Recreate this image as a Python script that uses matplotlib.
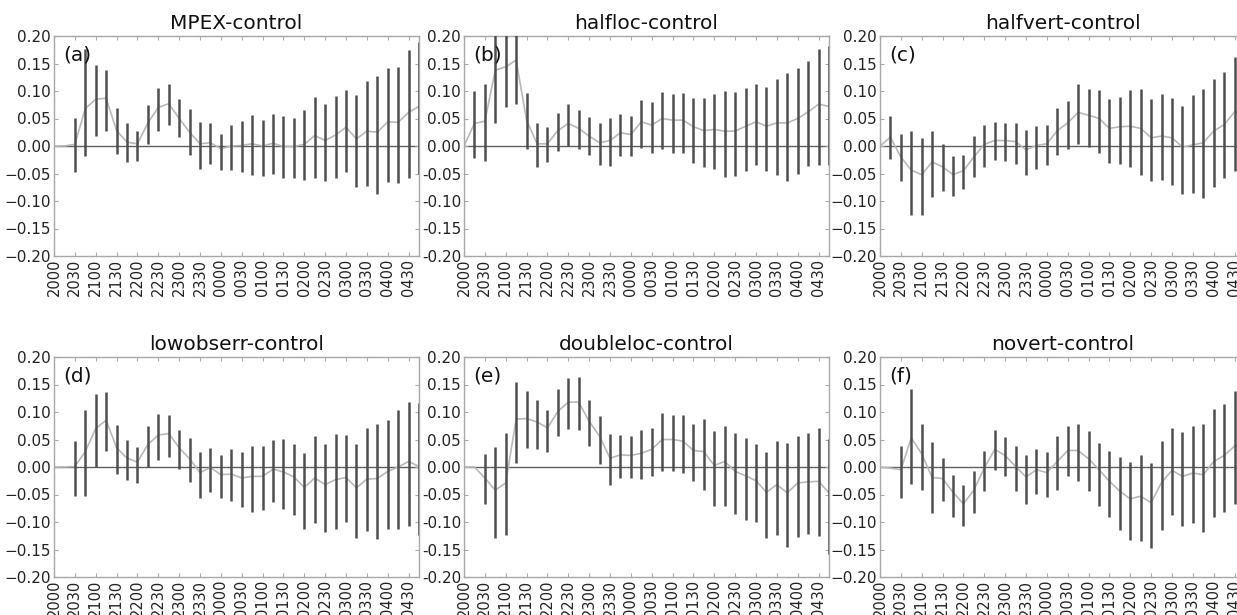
import numpy as np
import matplotlib
matplotlib.use("Agg")
import matplotlib.pyplot as plt
from matplotlib.ticker import FixedLocator, FixedFormatter

# 15-min steps from 2000 to 0445, labels every 30 min
TIME_LABELS = ["2000", "2030", "2100", "2130", "2200", "2230", "2300", "2330",
               "0000", "0030", "0100", "0130", "0200", "0230", "0300", "0330",
               "0400", "0430"]
N_STEPS = 36

TITLES = ["MPEX-control", "halfloc-control", "halfvert-control",
          "lowobserr-control", "doubleloc-control", "novert-control"]
PANEL_TAGS = ["(a)", "(b)", "(c)", "(d)", "(e)", "(f)"]

nan = np.nan

# panel (a) MPEX-control
mpex_mean = [0.0, 0.0, 0.003, 0.068, 0.085, 0.087, 0.028, 0.007, 0.004, 0.042,
             0.070, 0.077, 0.050, 0.025, 0.004, 0.006, -0.005, 0.000, 0.001, 0.004,
             0.000, 0.005, -0.001, -0.001, 0.003, 0.019, 0.010, 0.020, 0.034, 0.013,
             0.027, 0.025, 0.044, 0.043, 0.061, 0.072]
mpex_hi = [nan, nan, 0.051, 0.177, 0.147, 0.139, 0.069, 0.041, 0.028, 0.074,
           0.106, 0.113, 0.085, 0.067, 0.044, 0.041, 0.022, 0.039, 0.045, 0.057,
           0.048, 0.058, 0.054, 0.051, 0.065, 0.090, 0.076, 0.091, 0.102, 0.093,
           0.119, 0.127, 0.142, 0.144, 0.174, 0.190]
mpex_lo = [nan, nan, -0.047, -0.018, 0.018, 0.027, -0.015, -0.029, -0.027, 0.003,
           0.028, 0.038, 0.016, -0.017, -0.041, -0.032, -0.043, -0.044, -0.047, -0.052,
           -0.055, -0.050, -0.058, -0.059, -0.061, -0.058, -0.063, -0.058, -0.047, -0.075,
           -0.073, -0.088, -0.065, -0.068, -0.059, -0.050]

# panel (b) halfloc-control
halfloc_mean = [0.0, 0.041, 0.045, 0.138, 0.144, 0.156, 0.047, 0.004, 0.004, 0.028,
                0.041, 0.032, 0.018, 0.006, 0.010, 0.024, 0.021, 0.044, 0.038, 0.050,
                0.047, 0.047, 0.035, 0.028, 0.030, 0.027, 0.027, 0.036, 0.044, 0.036,
                0.042, 0.042, 0.050, 0.062, 0.076, 0.072]
halfloc_hi = [nan, 0.100, 0.113, 0.220, 0.230, 0.240, 0.097, 0.041, 0.035, 0.060,
              0.077, 0.066, 0.052, 0.042, 0.051, 0.059, 0.054, 0.084, 0.080, 0.098,
              0.095, 0.097, 0.087, 0.088, 0.094, 0.100, 0.098, 0.106, 0.112, 0.108,
              0.122, 0.133, 0.142, 0.155, 0.177, 0.182]
halfloc_lo = [nan, -0.021, -0.027, 0.042, 0.071, 0.077, -0.005, -0.038, -0.029, -0.009,
              0.000, -0.005, -0.017, -0.035, -0.036, -0.018, -0.018, -0.003, -0.013, -0.006,
              -0.013, -0.012, -0.030, -0.038, -0.041, -0.056, -0.055, -0.045, -0.035, -0.045,
              -0.052, -0.064, -0.050, -0.036, -0.035, -0.035]

# panel (c) halfvert-control
halfvert_mean = [0.0, 0.016, -0.020, -0.044, -0.052, -0.029, -0.038, -0.052, -0.045, -0.020,
                 0.003, 0.010, 0.010, 0.008, -0.007, 0.001, 0.004, 0.028, 0.042, 0.061,
                 0.056, 0.050, 0.032, 0.035, 0.036, 0.032, 0.015, 0.018, 0.015, -0.002,
                 0.002, 0.006, 0.027, 0.039, 0.062, 0.070]
halfvert_hi = [nan, 0.054, 0.021, 0.028, 0.015, 0.028, 0.003, -0.018, -0.017, 0.018,
               0.039, 0.044, 0.042, 0.042, 0.030, 0.037, 0.038, 0.069, 0.082, 0.112,
               0.104, 0.102, 0.085, 0.090, 0.101, 0.104, 0.085, 0.095, 0.088, 0.073,
               0.093, 0.104, 0.121, 0.135, 0.162, 0.180]
halfvert_lo = [nan, -0.024, -0.064, -0.126, -0.126, -0.093, -0.082, -0.090, -0.078, -0.056,
               -0.038, -0.026, -0.028, -0.033, -0.052, -0.042, -0.035, -0.017, -0.006, 0.004,
               -0.002, -0.013, -0.031, -0.032, -0.038, -0.052, -0.064, -0.062, -0.070, -0.087,
               -0.086, -0.094, -0.075, -0.059, -0.045, -0.040]

# panel (d) lowobserr-control
lowobs_mean = [0.0, 0.0, 0.001, 0.028, 0.070, 0.085, 0.035, 0.016, 0.009, 0.041,
               0.058, 0.061, 0.035, 0.015, -0.010, -0.001, -0.014, -0.013, -0.020, -0.017,
               -0.017, -0.004, -0.009, -0.018, -0.037, -0.020, -0.032, -0.023, -0.019, -0.038,
               -0.022, -0.021, -0.008, 0.000, 0.010, 0.001]
lowobs_hi = [nan, nan, 0.048, 0.104, 0.133, 0.136, 0.077, 0.050, 0.036, 0.075,
             0.096, 0.095, 0.068, 0.053, 0.028, 0.035, 0.022, 0.032, 0.027, 0.038,
             0.039, 0.050, 0.051, 0.042, 0.025, 0.056, 0.041, 0.060, 0.059, 0.042,
             0.071, 0.078, 0.086, 0.103, 0.118, 0.116]
lowobs_lo = [nan, nan, -0.052, -0.052, 0.000, 0.030, -0.013, -0.024, -0.029, 0.000,
             0.013, 0.018, -0.003, -0.028, -0.056, -0.046, -0.056, -0.062, -0.072, -0.081,
             -0.079, -0.064, -0.076, -0.088, -0.113, -0.101, -0.119, -0.113, -0.100, -0.129,
             -0.117, -0.131, -0.113, -0.113, -0.107, -0.123]

# panel (e) doubleloc-control
dblloc_mean = [0.0, 0.0, -0.020, -0.042, -0.029, 0.087, 0.088, 0.082, 0.071, 0.101,
               0.118, 0.118, 0.083, 0.056, 0.016, 0.022, 0.021, 0.025, 0.032, 0.050,
               0.050, 0.047, 0.030, 0.028, 0.003, 0.010, -0.008, -0.016, -0.025, -0.046,
               -0.032, -0.047, -0.029, -0.027, -0.026, -0.047]
dblloc_hi = [nan, nan, 0.024, 0.036, 0.062, 0.154, 0.138, 0.122, 0.104, 0.142,
             0.162, 0.163, 0.121, 0.093, 0.060, 0.059, 0.056, 0.067, 0.071, 0.098,
             0.095, 0.094, 0.079, 0.087, 0.065, 0.075, 0.062, 0.053, 0.042, 0.027,
             0.048, 0.044, 0.057, 0.062, 0.071, 0.051]
dblloc_lo = [nan, nan, -0.067, -0.129, -0.124, 0.008, 0.035, 0.033, 0.027, 0.056,
             0.069, 0.068, 0.039, 0.005, -0.033, -0.020, -0.020, -0.022, -0.017, -0.008,
             -0.007, -0.010, -0.026, -0.041, -0.070, -0.070, -0.085, -0.096, -0.100, -0.129,
             -0.123, -0.145, -0.127, -0.122, -0.126, -0.159]

# panel (f) novert-control
novert_mean = [0.0, -0.002, -0.005, 0.053, 0.024, -0.019, -0.021, -0.046, -0.067, -0.042,
               -0.002, 0.032, 0.021, 0.001, -0.018, -0.005, -0.010, 0.010, 0.030, 0.030,
               0.015, -0.005, -0.026, -0.044, -0.058, -0.053, -0.065, -0.028, -0.006, -0.017,
               -0.011, -0.014, 0.010, 0.021, 0.038, 0.045]
novert_hi = [nan, nan, 0.039, 0.141, 0.079, 0.045, 0.016, -0.014, -0.033, -0.008,
             0.030, 0.068, 0.054, 0.039, 0.021, 0.033, 0.027, 0.057, 0.074, 0.078,
             0.065, 0.044, 0.030, 0.019, 0.009, 0.021, 0.007, 0.048, 0.071, 0.064,
             0.075, 0.078, 0.106, 0.115, 0.138, 0.150]
novert_lo = [nan, nan, -0.056, -0.030, -0.041, -0.084, -0.062, -0.090, -0.107, -0.084,
             -0.044, -0.006, -0.016, -0.043, -0.067, -0.049, -0.055, -0.041, -0.017, -0.026,
             -0.044, -0.070, -0.090, -0.114, -0.132, -0.134, -0.147, -0.114, -0.088, -0.108,
             -0.102, -0.118, -0.091, -0.082, -0.068, -0.060]

MEANS = [mpex_mean, halfloc_mean, halfvert_mean, lowobs_mean, dblloc_mean, novert_mean]
HIS = [mpex_hi, halfloc_hi, halfvert_hi, lowobs_hi, dblloc_hi, novert_hi]
LOS = [mpex_lo, halfloc_lo, halfvert_lo, lowobs_lo, dblloc_lo, novert_lo]

Y_TICKS = [-0.20, -0.15, -0.10, -0.05, 0.00, 0.05, 0.10, 0.15, 0.20]
# middle column uses a plain hyphen for the minus sign
HYPHEN_PANELS = [1, 4]

W, H = 1237, 615
fig = plt.figure(figsize=(W / 100, H / 100), dpi=100)

# axes positions in pixels: (left, top); right column runs off the page edge
AX_W, AX_H = 365, 220
lefts = [54, 464, 880]
tops = [36, 357]

x = np.arange(N_STEPS)
for k in range(6):
    row, col = divmod(k, 3)
    ax = fig.add_axes([lefts[col] / W, 1 - (tops[row] + AX_H) / H, AX_W / W, AX_H / H])

    ax.axhline(0, color="#606060", linewidth=1.0, zorder=1)
    ax.plot(x, MEANS[k], color="#b8b8b8", linewidth=1.2, zorder=2)
    ax.vlines(x, LOS[k], HIS[k], color="#4e4e4e", linewidth=1.8, zorder=3)

    ax.set_xlim(0, N_STEPS - 1)
    ax.set_ylim(-0.20, 0.20)

    ax.xaxis.set_major_locator(FixedLocator(np.arange(0, N_STEPS - 1, 2)))
    ax.set_xticklabels(TIME_LABELS, rotation=90, fontsize=10.5, color="#222222")
    ax.yaxis.set_major_locator(FixedLocator(Y_TICKS))
    minus = "-" if k in HYPHEN_PANELS else "\u2212"
    ylabs = [f"{v:.2f}".replace("-", minus) for v in Y_TICKS]
    ax.yaxis.set_major_formatter(FixedFormatter(ylabs))
    ax.tick_params(axis="y", labelsize=11, labelcolor="#222222")
    ax.tick_params(direction="in", length=3, color="#aaaaaa",
                   top=True, right=True, pad=2)

    for sp in ax.spines.values():
        sp.set_color("#a8a8a8")
        sp.set_linewidth(1.0)

    ax.set_title(TITLES[k], fontsize=14.5, pad=5, color="#111111")
    ax.text(0.025, 0.955, PANEL_TAGS[k], transform=ax.transAxes,
            fontsize=14.5, va="top", ha="left", color="#111111")

fig.savefig("out.png", dpi=100)
